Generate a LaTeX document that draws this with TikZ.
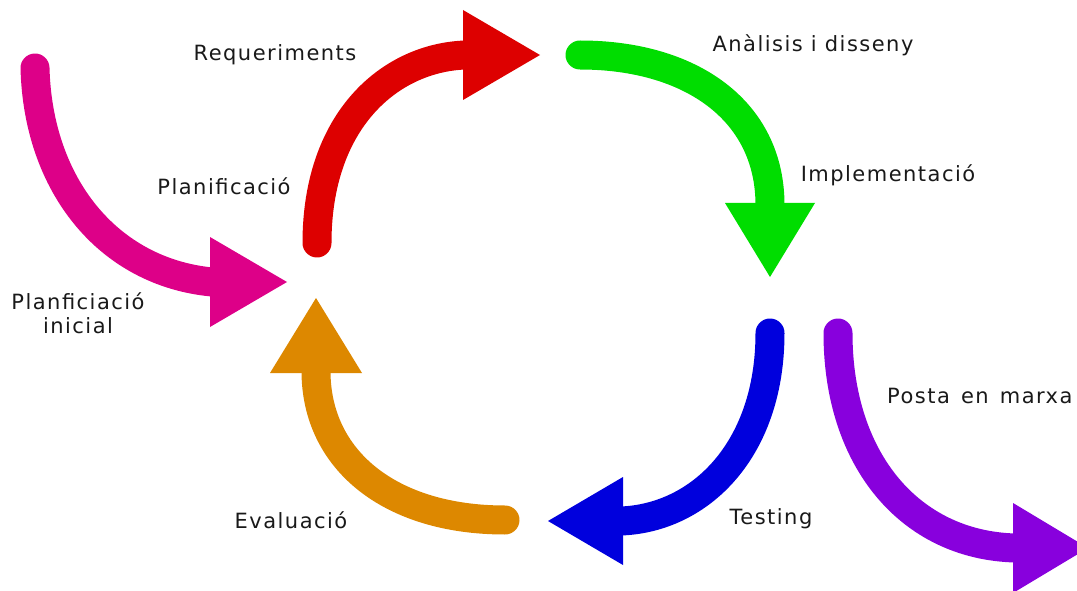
\documentclass[tikz,border=0pt]{standalone}
\usepackage{fontspec}
\setmainfont{DejaVu Sans}
\newfontfamily\lblfont[LetterSpace=7]{DejaVu Sans}
\definecolor{cmag}{RGB}{221,0,136}
\definecolor{cred}{RGB}{221,0,0}
\definecolor{cgreen}{RGB}{0,221,0}
\definecolor{cblue}{RGB}{0,0,221}
\definecolor{cpurple}{RGB}{136,0,221}
\definecolor{corange}{RGB}{221,136,0}
\tikzset{
  shaft/.style={line width=29pt, line cap=round},
  lbl/.style={font=\lblfont\fontsize{21}{25}\selectfont, inner sep=0pt, text=black!90}
}
\begin{document}
\begin{tikzpicture}[x=1pt,y=-1pt]
\useasboundingbox (0,0) rectangle (1077,591);
\clip (0,0) rectangle (1077,591);
% named coordinates: start, base of head, tip
\coordinate (ms) at (35,68);   \coordinate (mb) at (212,282); \coordinate (mt) at (287,282);
\coordinate (rs) at (317,243); \coordinate (rb) at (465,55);  \coordinate (rt) at (540,55);
\coordinate (gs) at (580,55);  \coordinate (gb) at (770,205); \coordinate (gt) at (770,277);
\coordinate (bs) at (770,333); \coordinate (bb) at (621,521); \coordinate (bt) at (548,521);
\coordinate (ps) at (838,333); \coordinate (pb) at (1015,548);\coordinate (pt) at (1088,548);
\coordinate (os) at (505,520); \coordinate (ob) at (316,371); \coordinate (ot) at (316,298);
% shafts
\draw[shaft, cmag]    (ms) .. controls (38,185) and (108,272) .. (mb);
\draw[shaft, cred]    (rs) .. controls (317,120) and (390,58) .. (rb);
\draw[shaft, cgreen]  (gs) .. controls (690,55) and (770,110) .. (gb);
\draw[shaft, cblue]   (bs) .. controls (770,450) and (700,518) .. (bb);
\draw[shaft, cpurple] (ps) .. controls (838,460) and (910,545) .. (pb);
\draw[shaft, corange] (os) .. controls (390,520) and (316,460) .. (ob);
% heads
\fill[cmag]    (210,237) -- (mt) -- (210,327) -- cycle;
\fill[cred]    (463,10) -- (rt) -- (463,100) -- cycle;
\fill[cgreen]  (725,203) -- (gt) -- (815,203) -- cycle;
\fill[cblue]   (623,477) -- (bt) -- (623,565) -- cycle;
\fill[cpurple] (1013,503) -- (pt) -- (1013,593) -- cycle;
\fill[corange] (270,373) -- (ot) -- (362,373) -- cycle;
% labels
\node[lbl] (req) at (275,55) {Requeriments};
\node[lbl] (pla) at (224,186) {Planificació};
\node[lbl] (ana) at (813,45) {Anàlisis i disseny};
\node[lbl] (imp) at (888,175) {Implementació};
\node[lbl, align=center] (ini) at (78,313) {Planficiació\\[-1pt]inicial};
\node[lbl] (eva) at (291,520) {Evaluació};
\node[lbl] (tes) at (771,519) {Testing};
\node[lbl, anchor=west] (pos) at (887,396) {Posta\hspace{3pt} en\hspace{3pt} marxa};
\end{tikzpicture}
\end{document}
